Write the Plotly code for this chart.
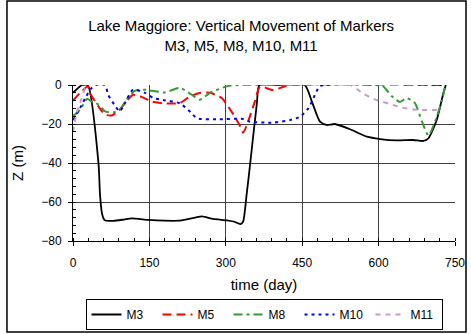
import plotly.graph_objects as go

# Vertical movement of survey markers (Z in metres) against time in days
m3_day = [0, 18, 29, 50, 53, 57, 62, 79, 100, 115, 148, 180, 207, 240, 253, 275, 302, 315, 329, 334,
          341, 348, 361, 366, 400, 455, 469, 485, 498, 514, 544, 577, 603, 636, 668, 688, 698, 714, 727, 732]
m3_z = [-4, 0, 0, -40, -56, -66, -69.3, -69.7, -69, -68.4, -69.2, -69.6, -69.6, -68, -67.4, -68.7, -69.4, -70, -71.3, -70,
        -56, -40, -9.4, 0, 0, 0, -8.5, -18.8, -20.5, -20, -22.7, -26.5, -27.7, -28.4, -28.2, -28.7, -27.3, -18, -4.3, 0]

m5_day = [0, 14, 29, 33, 50, 63, 76, 89, 105, 118, 140, 154, 177, 210, 230, 249, 269, 292, 311, 328,
          334, 344, 357, 367, 393, 412, 425, 724]
m5_z = [-8, -4, -0.7, -4, -11, -15.2, -15.6, -13.5, -8.4, -5, -6.7, -8.4, -9.4, -9.2, -5.8, -4.1, -4, -6.7, -13.5, -21,
        -24.5, -18.6, -8.5, -0.9, -2.6, -1, 0, 0]

m8_day = [0, 14, 28, 36, 50, 63, 79, 92, 105, 122, 141, 161, 180, 210, 233, 249, 269, 302, 325,
          590, 609, 626, 642, 655, 671, 685, 698, 711, 724, 730]
m8_z = [-16, -12.6, -7, -8.4, -10, -13.5, -14, -12.6, -7.5, -2.9, -2.4, -3.2, -3.8, -1.5, -5, -7.5, -4, -0.7, 0,
        0, -0.7, -5.8, -8.7, -6.7, -9.2, -18.6, -26, -18.6, -8.4, -1.5]

m10_day = [0, 14, 24, 35, 44, 63, 69, 81, 92, 102, 118, 141, 158, 177, 210, 230, 243, 282, 334, 347,
           393, 426, 446, 462, 478, 485, 724]
m10_z = [-18, -11.8, -6.7, -2, 0, 0, -5, -10, -13.5, -9.2, -2.4, -4, -6.7, -7.7, -9.4, -13.7, -17, -17.6, -17.4, -18.8,
         -19.3, -18, -16.2, -12, -3.4, -0.5, 0]

m11_day = [0, 7, 17, 29, 544, 570, 596, 622, 645, 668, 724]
m11_z = [-24, -14.5, -6.8, 0, 0, -4.5, -7.7, -9.7, -11.5, -12.6, -12.8]

x_ticks = [0, 150, 300, 450, 600, 750]
y_ticks = [-80, -60, -40, -20, 0]

FONT = "Liberation Sans, Arial, sans-serif"

series = [
    ("M3", m3_day, m3_z, "#000000", "solid", 1.8),
    ("M5", m5_day, m5_z, "#FF0000", "9px,5px", 2),
    ("M8", m8_day, m8_z, "#339933", "9px,4px,3px,4px", 2),
    ("M10", m10_day, m10_z, "#0000FF", "3px,4px", 2),
    ("M11", m11_day, m11_z, "#CC99CC", "5px,5px", 2),
]

fig = go.Figure()
for name, xs, ys, color, dash, width in series:
    fig.add_trace(go.Scatter(
        x=xs, y=ys, name=name, mode="lines",
        line=dict(color=color, dash=dash, width=width, shape="spline", smoothing=0.6),
    ))

axis_common = dict(
    showline=True, linecolor="#000000", linewidth=1,
    ticks="outside", ticklen=4, tickcolor="#000000",
    showgrid=True, gridcolor="#404040", gridwidth=1,
    zeroline=False, automargin=False,
    tickfont=dict(family=FONT, size=12, color="#000000"),
)

fig.update_xaxes(
    range=[0, 750], tickvals=x_ticks,
    minor=dict(ticks="inside", dtick=30, tick0=0, ticklen=3, tickcolor="#000000", showgrid=False),
    ticklabelstandoff=7,
    title=dict(text="time (day)", font=dict(family=FONT, size=15, color="#000000"), standoff=10),
    **axis_common,
)
fig.update_yaxes(
    range=[-80, 0], tickvals=y_ticks,
    minor=dict(ticks="inside", dtick=4, tick0=0, ticklen=3, tickcolor="#000000", showgrid=False),
    ticklabelstandoff=4,
    title=dict(text="Z (m)", font=dict(family=FONT, size=15, color="#000000"), standoff=13),
    **axis_common,
)

fig.update_layout(
    width=471, height=334,
    margin=dict(l=73, r=16, t=85, b=93, autoexpand=False),
    paper_bgcolor="#FFFFFF", plot_bgcolor="#FFFFFF",
    font=dict(family=FONT, color="#000000"),
    title=dict(
        text="Lake Maggiore: Vertical Movement of Markers<br>M3, M5, M8, M10, M11",
        font=dict(family=FONT, size=15, color="#000000"),
        x=0.512, xref="container", xanchor="center",
        y=0.907, yref="container", yanchor="top",
    ),
    showlegend=True,
    legend=dict(
        orientation="h", x=0.5, xanchor="center",
        y=0.012, yref="container", yanchor="bottom",
        entrywidth=26, entrywidthmode="pixels",
        bordercolor="#000000", borderwidth=1, bgcolor="#FFFFFF",
        font=dict(family=FONT, size=12, color="#000000"),
    ),
    shapes=[dict(
        type="rect", xref="paper", yref="paper",
        x0=-0.1728, x1=1.0288, y0=-0.5833, y1=1.5385,
        line=dict(color="#000000", width=1.5), fillcolor="rgba(0,0,0,0)", layer="below",
    )],
)

fig.write_html("out.html")
